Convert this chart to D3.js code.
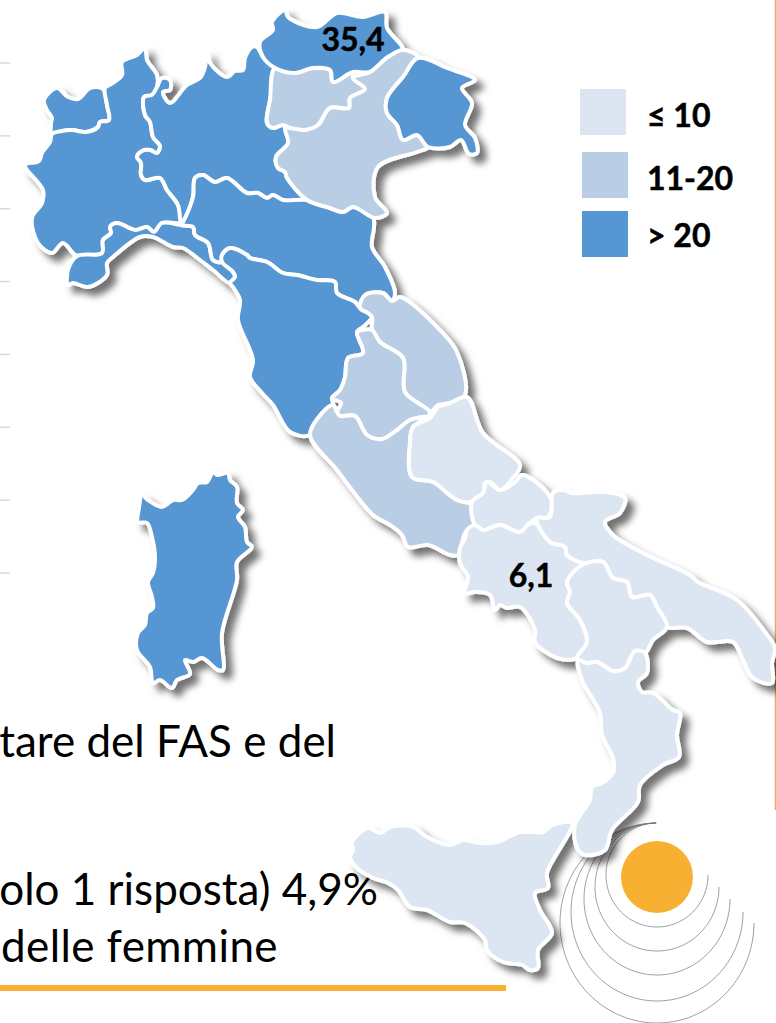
<!DOCTYPE html>
<html>
<head>
<meta charset="utf-8">
<script src="https://d3js.org/d3.v7.min.js"></script>
<style>
  html, body { margin: 0; padding: 0; background: #fff; }
  svg { display: block; }
  text { font-family: Lato, "Open Sans", sans-serif; }
</style>
</head>
<body>
<svg id="drawing_region"></svg>
<script>
// values
const classLabels = ["≤ 10", "11-20", "> 20"];
const classColors = ["#dce6f2", "#b9cde5", "#5596d3"];

const regionNames = ["Valle d'Aosta", "Piemonte", "Lombardia", "Liguria", "Emilia-Romagna", "Toscana",
    "Trentino", "Alto Adige", "Veneto", "Friuli", "Marche", "Umbria", "Lazio", "Abruzzo", "Molise",
    "Campania", "Puglia", "Basilicata", "Calabria", "Sicilia", "Sardegna"];
const regionClasses = [2, 2, 2, 2, 2, 2, 1, 2, 1, 2, 1, 1, 1, 0, 0, 0, 0, 0, 0, 0, 2];

const labelRegions = ["Alto Adige", "Campania"];
const labelValues = ["35,4", "6,1"];
const labelAnchors = [[353, 51], [531, 587]];

// hidden chart's gridlines, only their left stubs are showing
const gridTicks = [0, 1, 2, 3, 4, 5, 6, 7];

const bodyLines = ["tare del FAS e del", "olo 1 risposta) 4,9%", "delle femmine"];
const bodyEnds = [[336, 757], [378, 905], [278, 962]];
const bodySpacing = [0, 0, 0.4];

// outlines in picture pixels
const valleDAosta = [[44,100],[57,88],[68,97],[78,99],[90,88],[103,89],[107,105],[109,120],[100,122],[98,127],[86,132],[72,130],[62,131],[52,134],[51,123],[52,118],[47,110]];
const piemonte = [[52,134],[62,131],[72,130],[86,132],[98,127],[100,122],[109,120],[107,105],[105,88],[113,83],[122,75],[122,62],[137,55],[145,48],[147,60],[157,75],[157,87],[152,95],[144,97],[145,115],[150,122],[153,137],[160,146],[157,153],[150,150],[142,151],[137,157],[141,163],[141,175],[145,180],[160,178],[167,190],[178,205],[181,222],[162,223],[154,232],[147,227],[135,230],[117,223],[110,227],[111,233],[103,240],[102,253],[77,256],[63,243],[52,253],[38,243],[32,218],[42,203],[43,190],[25,165],[39,161],[42,153],[50,142]];
const lombardia = [[162,78],[170,80],[170,90],[163,92],[170,103],[187,85],[200,78],[205,67],[207,52],[210,63],[227,77],[235,71],[243,70],[245,58],[252,47],[257,47],[263,57],[275,68],[270,100],[267,123],[273,128],[283,125],[285,128],[288,143],[276,157],[278,168],[285,172],[287,178],[307,200],[283,200],[273,195],[267,198],[258,193],[247,193],[227,178],[215,182],[203,175],[195,178],[193,197],[183,222],[181,222],[178,205],[167,190],[160,178],[145,180],[141,175],[141,163],[137,157],[142,151],[150,150],[157,153],[160,146],[153,137],[150,122],[145,115],[144,97],[152,95],[157,87]];
const liguria = [[77,256],[102,253],[103,240],[111,233],[110,227],[117,223],[135,230],[147,227],[154,232],[162,223],[181,225],[193,227],[195,235],[208,243],[213,260],[222,262],[233,272],[235,277],[230,283],[213,270],[200,260],[183,248],[173,247],[153,237],[140,237],[113,257],[107,263],[107,275],[88,287],[73,283],[68,285],[68,270]];
const emilia = [[183,222],[193,197],[195,178],[203,175],[215,182],[227,178],[247,193],[258,193],[267,198],[273,195],[283,200],[307,200],[330,208],[343,212],[353,207],[373,217],[374,227],[372,247],[385,267],[395,293],[392,301],[383,293],[365,295],[360,306],[355,302],[337,293],[335,282],[317,280],[297,275],[283,273],[267,262],[250,258],[247,255],[230,248],[222,255],[222,262],[213,260],[208,243],[195,235],[193,227],[181,225]];
const toscana = [[230,283],[235,277],[233,272],[222,262],[222,255],[230,248],[247,255],[250,258],[267,262],[283,273],[297,275],[317,280],[335,282],[337,293],[355,302],[360,308],[368,313],[372,317],[363,327],[357,332],[363,353],[348,358],[345,377],[340,390],[332,398],[333,405],[322,413],[310,435],[290,432],[273,405],[262,393],[250,377],[253,360],[238,320],[240,300],[233,287]];
const trentino = [[275,68],[295,73],[313,68],[330,70],[333,82],[353,72],[353,78],[365,89],[350,98],[349,108],[330,108],[318,125],[305,130],[290,128],[283,125],[273,128],[267,123],[270,100]];
const altoAdige = [[260,42],[273,30],[272,22],[285,10],[288,17],[317,27],[337,13],[363,17],[385,12],[387,28],[403,50],[388,57],[370,72],[353,72],[333,82],[330,70],[313,68],[295,73],[275,68],[263,57]];
const veneto = [[403,50],[418,57],[403,77],[387,98],[387,113],[397,125],[403,140],[417,135],[428,147],[417,152],[378,167],[375,197],[387,213],[375,218],[353,207],[343,212],[330,208],[307,200],[287,178],[285,172],[278,168],[276,157],[288,143],[285,128],[290,128],[305,130],[318,125],[330,108],[349,108],[350,98],[365,89],[353,78],[370,72],[388,57]];
const friuli = [[418,58],[447,68],[475,80],[462,88],[472,103],[465,125],[475,138],[477,153],[469,154],[461,140],[450,147],[428,147],[417,135],[403,140],[397,125],[387,113],[387,98],[403,77]];
const marche = [[400,297],[440,330],[457,352],[465,395],[450,403],[438,405],[430,412],[405,392],[403,358],[380,342],[372,330],[372,317],[368,313],[360,308],[365,295],[383,293],[392,301]];
const umbria = [[357,332],[362,330],[372,330],[380,342],[403,358],[405,392],[430,412],[427,417],[410,420],[397,430],[382,439],[367,435],[355,416],[340,416],[337,412],[341,403],[332,398],[340,390],[345,377],[348,358],[363,353]];
const lazio = [[310,435],[322,413],[333,405],[337,412],[340,416],[355,416],[367,435],[382,439],[397,430],[410,420],[427,417],[413,427],[410,443],[412,477],[433,482],[457,500],[472,505],[475,523],[465,533],[458,555],[450,555],[428,545],[408,547],[402,535],[390,525],[373,515],[352,490],[337,470]];
const abruzzo = [[467,397],[483,433],[520,465],[513,478],[500,490],[490,482],[485,483],[483,493],[472,502],[457,500],[433,482],[412,477],[410,443],[413,427],[430,418],[438,407],[450,403]];
const molise = [[522,475],[543,488],[552,502],[548,517],[537,518],[530,523],[520,532],[500,525],[483,530],[475,525],[472,502],[483,493],[487,482],[500,490],[515,482]];
const campania = [[467,530],[475,525],[483,530],[500,525],[520,532],[530,523],[538,525],[550,542],[565,547],[567,555],[582,565],[567,582],[570,592],[567,603],[580,620],[587,642],[577,658],[557,658],[535,642],[535,630],[520,607],[507,608],[500,605],[495,610],[490,595],[475,592],[465,593],[468,577],[460,563],[460,548],[465,538]];
const puglia = [[550,517],[553,493],[563,490],[572,493],[607,492],[625,498],[620,513],[605,522],[613,535],[647,555],[690,575],[698,582],[737,600],[765,632],[775,648],[772,663],[772,683],[753,678],[743,660],[733,642],[707,642],[687,628],[667,627],[657,607],[650,595],[632,597],[627,582],[613,578],[603,562],[583,563],[567,555],[565,547],[550,542],[538,525],[537,518]];
const basilicata = [[582,565],[603,562],[613,578],[627,582],[632,597],[650,595],[657,607],[667,627],[653,640],[645,653],[635,651],[625,668],[613,671],[597,662],[587,663],[577,658],[587,642],[580,620],[567,603],[570,592],[567,582]];
const calabria = [[578,660],[587,663],[597,662],[613,671],[625,668],[635,651],[645,653],[647,673],[638,682],[642,692],[653,693],[673,710],[680,713],[677,735],[679,757],[663,765],[640,785],[638,802],[612,830],[605,850],[585,855],[577,848],[575,825],[590,800],[592,787],[602,783],[613,773],[613,758],[602,735],[600,713],[582,680]];
const sicilia = [[352,842],[368,828],[380,833],[390,827],[413,827],[427,837],[450,845],[463,840],[480,843],[497,842],[520,832],[543,832],[553,825],[572,823],[547,873],[548,888],[535,893],[540,910],[552,933],[538,950],[538,968],[530,970],[522,965],[503,962],[487,950],[485,940],[465,923],[450,922],[427,910],[410,907],[398,890],[388,883],[373,878],[357,868],[350,857],[353,850]];
const sardegna = [[142,495],[148,500],[162,507],[173,500],[182,500],[193,490],[198,483],[207,482],[213,472],[217,475],[228,473],[230,480],[237,487],[237,503],[243,510],[238,517],[245,527],[247,542],[252,547],[237,562],[237,580],[222,633],[223,670],[218,670],[202,658],[193,662],[185,660],[190,674],[177,680],[172,688],[160,680],[153,683],[150,667],[137,650],[138,633],[145,625],[147,613],[153,608],[152,597],[148,582],[153,573],[155,557],[152,537],[147,523],[138,522],[139,508]];

const regionOutlines = [valleDAosta, piemonte, lombardia, liguria, emilia, toscana, trentino, altoAdige,
    veneto, friuli, marche, umbria, lazio, abruzzo, molise, campania, puglia, basilicata, calabria, sicilia, sardegna];

const width = 776;
const height = 1023;

const svg = d3.select("#drawing_region")
    .attr("width", width)
    .attr("height", height);

const color = d3.scaleOrdinal().domain(d3.range(classLabels.length)).range(classColors);
const gridY = d3.scaleLinear().domain([0, 7]).range([63, 573]);

const defs = svg.append("defs");
const shadow = defs.append("filter")
    .attr("id", "map_shadow")
    .attr("x", "-10%").attr("y", "-10%")
    .attr("width", "120%").attr("height", "120%");
shadow.append("feDropShadow")
    .attr("dx", 7).attr("dy", 7)
    .attr("stdDeviation", 3.5)
    .attr("flood-color", "#000")
    .attr("flood-opacity", 0.55);

// gridline stubs at the left edge
svg.append("g").selectAll("line")
    .data(gridTicks)
    .join("line")
    .attr("x1", 0)
    .attr("x2", 10)
    .attr("y1", d => gridY(d))
    .attr("y2", d => gridY(d))
    .attr("stroke", "#d9d9d9")
    .attr("stroke-width", 1.5);

// orange frame on the right
svg.append("line")
    .attr("x1", 775.5).attr("x2", 775.5)
    .attr("y1", 0).attr("y2", 810)
    .attr("stroke", "#e8ad55")
    .attr("stroke-width", 1.5);

// body text
svg.append("g").selectAll("text")
    .data(bodyLines)
    .join("text")
    .attr("x", (d, i) => bodyEnds[i][0])
    .attr("y", (d, i) => bodyEnds[i][1])
    .attr("text-anchor", "end")
    .attr("font-size", 44)
    .attr("letter-spacing", (d, i) => bodySpacing[i])
    .attr("fill", "#000")
    .text(d => d);

svg.append("rect")
    .attr("x", 0).attr("y", 985)
    .attr("width", 506).attr("height", 6)
    .attr("fill", "#f8b133");

// logo: sun and the rings under it
const ringRx = [51, 62, 73, 86, 97];
const ringRy = [52, 64, 76, 89, 100];
const ringCx = 657;
const ringTop = 823;
const ringAngles = d3.range(0, 1.5 * Math.PI + 0.01, 0.05);

svg.append("g").selectAll("path")
    .data(ringRx)
    .join("path")
    .attr("fill", "none")
    .attr("stroke", "#777")
    .attr("stroke-width", 0.7)
    .attr("d", (rx, i) => d3.line()
        .x(a => ringCx + rx * Math.cos(a))
        .y(a => ringTop + ringRy[i] + ringRy[i] * Math.sin(a))(ringAngles));

svg.append("circle")
    .attr("cx", 657).attr("cy", 877)
    .attr("r", 36)
    .attr("fill", "#f7b032");

// the map
const regionLine = d3.line().curve(d3.curveCatmullRomClosed.alpha(0.5));

svg.append("g")
    .attr("filter", "url(#map_shadow)")
    .selectAll("path")
    .data(regionNames)
    .join("path")
    .attr("d", (d, i) => regionLine(regionOutlines[i]))
    .attr("fill", (d, i) => color(regionClasses[i]))
    .attr("stroke", "#fff")
    .attr("stroke-width", 4)
    .attr("stroke-linejoin", "round");

// value labels on the map
svg.append("g").selectAll("text")
    .data(labelRegions)
    .join("text")
    .attr("x", (d, i) => labelAnchors[i][0])
    .attr("y", (d, i) => labelAnchors[i][1])
    .attr("text-anchor", "middle")
    .attr("font-size", 32)
    .attr("font-weight", 700)
    .attr("stroke", "#000")
    .attr("stroke-width", 0.5)
    .text((d, i) => labelValues[i]);

// legend
const legendX = [580, 582, 582];
const legendY = [89, 152, 211];
const legendBase = [127, 190, 247];

const legend = svg.append("g");
legend.selectAll("rect")
    .data(classLabels)
    .join("rect")
    .attr("x", (d, i) => legendX[i])
    .attr("y", (d, i) => legendY[i])
    .attr("width", 46)
    .attr("height", 46)
    .attr("fill", (d, i) => color(i));
legend.selectAll("text")
    .data(classLabels)
    .join("text")
    .attr("x", 647)
    .attr("y", (d, i) => legendBase[i])
    .attr("font-size", 32)
    .attr("font-weight", 700)
    .attr("stroke", "#000")
    .attr("stroke-width", 0.5)
    .text(d => d);
</script>
</body>
</html>
